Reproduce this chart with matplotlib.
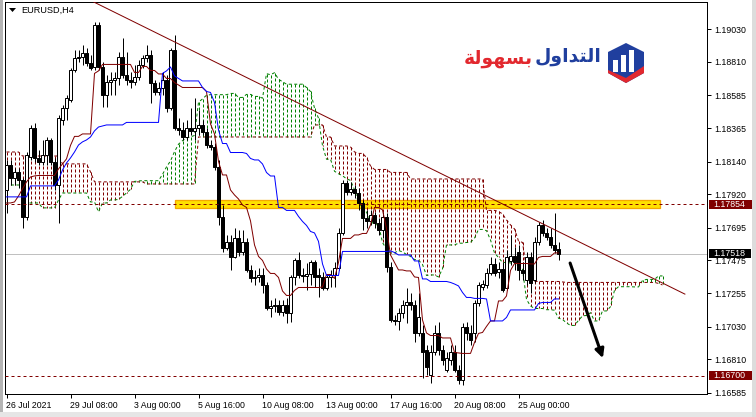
import numpy as np
import pandas as pd
import matplotlib
matplotlib.use("Agg")
import matplotlib.pyplot as plt
from matplotlib.patches import Rectangle, Polygon
from matplotlib.collections import LineCollection
from matplotlib.transforms import blended_transform_factory

plt.rcParams['font.family'] = ['Liberation Sans', 'DejaVu Sans']

# ---- EURUSD H4 candles (bar 0 = 26 Jul 2021 16:00) ----
open_ = [
    1.17949, 1.18117, 1.18029, 1.18070, 1.18016, 1.17767, 1.18171, 1.18366, 1.18164, 1.18137,
    1.18184, 1.18285, 1.18137, 1.17982, 1.18420, 1.18500, 1.18554, 1.18756, 1.18837, 1.18843,
    1.18870, 1.18803, 1.18776, 1.19059, 1.18776, 1.18588, 1.18675, 1.18689, 1.18702, 1.18843,
    1.18722, 1.18689, 1.18675, 1.18709, 1.18790, 1.18837, 1.18857, 1.18669, 1.18608, 1.18635,
    1.18689, 1.18500, 1.18891, 1.18366, 1.18352, 1.18305, 1.18366, 1.18346, 1.18366, 1.18386,
    1.18339, 1.18251, 1.18238, 1.18103, 1.17767, 1.17558, 1.17599, 1.17498, 1.17626, 1.17531,
    1.17599, 1.17410, 1.17357, 1.17363, 1.17377, 1.17310, 1.17155, 1.17168, 1.17175, 1.17128,
    1.17175, 1.17121, 1.17363, 1.17478, 1.17377, 1.17370, 1.17384, 1.17464, 1.17377, 1.17363,
    1.17289, 1.17363, 1.17377, 1.17424, 1.17659, 1.17996, 1.17935, 1.17955, 1.17928, 1.17861,
    1.17760, 1.17740, 1.17780, 1.17727, 1.17680, 1.17767, 1.17431, 1.17074, 1.17067, 1.17121,
    1.17175, 1.17195, 1.17175, 1.16987, 1.16987, 1.16872, 1.16704, 1.16859, 1.16987, 1.16872,
    1.16738, 1.16805, 1.16859, 1.16738, 1.16670, 1.17027, 1.16987, 1.16987, 1.17188, 1.17296,
    1.17310, 1.17390, 1.17451, 1.17397, 1.17417, 1.17289, 1.17471, 1.17505, 1.17531, 1.17410,
    1.17343, 1.17498, 1.17343, 1.17599, 1.17713, 1.17659, 1.17633, 1.17579, 1.17552,
]
high = [
    1.18151, 1.18151, 1.18097, 1.18097, 1.18029, 1.18204, 1.18386, 1.18399, 1.18218, 1.18285,
    1.18305, 1.18299, 1.18164, 1.18453, 1.18521, 1.18588, 1.18770, 1.18891, 1.18891, 1.18924,
    1.18904, 1.18857, 1.19079, 1.19079, 1.18810, 1.18722, 1.18743, 1.18743, 1.18877, 1.18971,
    1.18877, 1.18743, 1.18790, 1.18823, 1.18857, 1.18924, 1.18891, 1.18689, 1.18675, 1.18743,
    1.18722, 1.18904, 1.18991, 1.18433, 1.18406, 1.18420, 1.18500, 1.18568, 1.18487, 1.18420,
    1.18366, 1.18285, 1.18265, 1.18151, 1.17848, 1.17646, 1.17646, 1.17693, 1.17680, 1.17680,
    1.17626, 1.17444, 1.17410, 1.17424, 1.17424, 1.17330, 1.17209, 1.17222, 1.17209, 1.17209,
    1.17222, 1.17377, 1.17491, 1.17531, 1.17424, 1.17458, 1.17478, 1.17478, 1.17424, 1.17397,
    1.17377, 1.17410, 1.17464, 1.17693, 1.18016, 1.18016, 1.18003, 1.17982, 1.17962, 1.17881,
    1.17814, 1.17814, 1.17801, 1.17760, 1.17801, 1.17794, 1.17464, 1.17108, 1.17155, 1.17209,
    1.17289, 1.17256, 1.17209, 1.17256, 1.17040, 1.16906, 1.16906, 1.17040, 1.17061, 1.16906,
    1.16859, 1.16906, 1.16906, 1.16771, 1.17054, 1.17061, 1.17040, 1.17209, 1.17330, 1.17343,
    1.17424, 1.17498, 1.17491, 1.17464, 1.17464, 1.17545, 1.17646, 1.17565, 1.17579, 1.17464,
    1.17531, 1.17531, 1.17633, 1.17733, 1.17747, 1.17693, 1.17693, 1.17794, 1.17599,
]
low = [
    1.17794, 1.17982, 1.17982, 1.17962, 1.17693, 1.17747, 1.18151, 1.18137, 1.18117, 1.18117,
    1.18117, 1.18117, 1.17949, 1.17727, 1.18386, 1.18420, 1.18541, 1.18743, 1.18810, 1.18790,
    1.18783, 1.18756, 1.18756, 1.18756, 1.18507, 1.18507, 1.18588, 1.18588, 1.18655, 1.18702,
    1.18655, 1.18635, 1.18655, 1.18689, 1.18770, 1.18810, 1.18534, 1.18588, 1.18588, 1.18588,
    1.18473, 1.18487, 1.18352, 1.18319, 1.18285, 1.18285, 1.18319, 1.18285, 1.18319, 1.18319,
    1.18231, 1.18218, 1.18083, 1.17713, 1.17531, 1.17545, 1.17410, 1.17491, 1.17505, 1.17511,
    1.17397, 1.17330, 1.17310, 1.17330, 1.17256, 1.17141, 1.17094, 1.17128, 1.17108, 1.17101,
    1.17054, 1.17061, 1.17310, 1.17357, 1.17330, 1.17276, 1.17310, 1.17296, 1.17229, 1.17276,
    1.17276, 1.17296, 1.17296, 1.17410, 1.17646, 1.17915, 1.17915, 1.17895, 1.17814, 1.17680,
    1.17693, 1.17713, 1.17693, 1.17646, 1.17626, 1.17397, 1.17061, 1.17040, 1.17007, 1.17088,
    1.17054, 1.17141, 1.16926, 1.16966, 1.16684, 1.16704, 1.16650, 1.16839, 1.16839, 1.16771,
    1.16724, 1.16771, 1.16724, 1.16644, 1.16637, 1.16940, 1.16906, 1.16926, 1.17168, 1.17276,
    1.17289, 1.17377, 1.17370, 1.17357, 1.17262, 1.17276, 1.17444, 1.17410, 1.17343, 1.17343,
    1.17310, 1.17256, 1.17323, 1.17579, 1.17639, 1.17612, 1.17558, 1.17525, 1.17478,
]
close = [
    1.18117, 1.18029, 1.18070, 1.18016, 1.17767, 1.18184, 1.18366, 1.18164, 1.18137, 1.18184,
    1.18285, 1.18137, 1.17982, 1.18433, 1.18500, 1.18568, 1.18756, 1.18837, 1.18843, 1.18870,
    1.18803, 1.18770, 1.19059, 1.18776, 1.18588, 1.18675, 1.18689, 1.18702, 1.18843, 1.18722,
    1.18689, 1.18675, 1.18709, 1.18790, 1.18837, 1.18857, 1.18669, 1.18608, 1.18635, 1.18689,
    1.18500, 1.18891, 1.18366, 1.18352, 1.18305, 1.18366, 1.18346, 1.18366, 1.18386, 1.18339,
    1.18251, 1.18238, 1.18103, 1.17767, 1.17558, 1.17599, 1.17498, 1.17626, 1.17531, 1.17599,
    1.17410, 1.17357, 1.17363, 1.17377, 1.17310, 1.17155, 1.17168, 1.17175, 1.17128, 1.17175,
    1.17121, 1.17363, 1.17478, 1.17377, 1.17370, 1.17384, 1.17464, 1.17363, 1.17363, 1.17289,
    1.17363, 1.17377, 1.17424, 1.17659, 1.17996, 1.17935, 1.17955, 1.17928, 1.17861, 1.17760,
    1.17740, 1.17780, 1.17727, 1.17680, 1.17767, 1.17431, 1.17074, 1.17067, 1.17121, 1.17175,
    1.17195, 1.17175, 1.16987, 1.17094, 1.16859, 1.16758, 1.16859, 1.16987, 1.16872, 1.16805,
    1.16818, 1.16859, 1.16738, 1.16670, 1.17027, 1.16987, 1.16940, 1.17188, 1.17310, 1.17316,
    1.17390, 1.17451, 1.17390, 1.17417, 1.17276, 1.17498, 1.17505, 1.17464, 1.17410, 1.17390,
    1.17498, 1.17323, 1.17599, 1.17713, 1.17659, 1.17633, 1.17579, 1.17545, 1.17518,
]

tenkan_head = [1.17861, 1.17861, 1.17868, 1.17908, 1.17955, 1.18003, 1.18036, 1.18043]
kijun_head = [1.17902, 1.17902, 1.17902, 1.17902, 1.17902, 1.17902,
              1.17976, 1.17976, 1.17976, 1.17976, 1.17976, 1.17976, 1.17976,
              1.18016, 1.18083, 1.18130, 1.18164, 1.18204, 1.18251, 1.18272,
              1.18285, 1.18305, 1.18346, 1.18372, 1.18379]
span_a_head = [1.18003, 1.17982, 1.17982, 1.17982, 1.17982, 1.17861, 1.17861, 1.17861,
               1.17861, 1.17828, 1.17828, 1.17828, 1.17828, 1.17881, 1.17928, 1.17928,
               1.17928, 1.17928, 1.17928, 1.17928, 1.17928, 1.17868, 1.17868, 1.17801,
               1.17861, 1.17861]
span_b_head = [1.18204, 1.18204, 1.18204, 1.18204,
               1.18177, 1.18177, 1.18177, 1.18177, 1.18177, 1.18177, 1.18177, 1.18177,
               1.18177, 1.18177,
               1.18124, 1.18124, 1.18124, 1.18124, 1.18124, 1.18124, 1.18124,
               1.18070,
               1.18003, 1.18003, 1.18003, 1.18003, 1.18003, 1.18003, 1.18003, 1.18003,
               1.18003, 1.18003, 1.18003, 1.18003, 1.18003,
               1.17989, 1.17989, 1.17989, 1.17989, 1.17989, 1.17989, 1.17989, 1.17989,
               1.17989, 1.17989, 1.17989, 1.17989, 1.17989,
               1.18305, 1.18305, 1.18305, 1.18305, 1.18305, 1.18305, 1.18305, 1.18305,
               1.18305, 1.18305, 1.18305, 1.18305, 1.18305, 1.18305, 1.18305, 1.18305,
               1.18305, 1.18305, 1.18305, 1.18305, 1.18305, 1.18305, 1.18305, 1.18305,
               1.18305, 1.18305, 1.18305, 1.18305, 1.18305]

time_ticks = [0, 16, 32, 48, 64, 80, 96, 112, 128]
time_labels = ['26 Jul 2021', '29 Jul 08:00', '3 Aug 00:00', '5 Aug 16:00', '10 Aug 08:00',
               '13 Aug 00:00', '17 Aug 16:00', '20 Aug 08:00', '25 Aug 00:00']
price_ticks = [1.19030, 1.18810, 1.18585, 1.18365, 1.18140, 1.17920, 1.17695,
               1.17475, 1.17255, 1.17030, 1.16810, 1.16585]

resistance = 1.17854
support = 1.16700
zone = (42.1, 163.4, 1.17827, 1.17881)          # bar from, bar to, price low, price high
trend = ((21.6, 1.19216), (169.6, 1.17248))       # (bar, price) anchors
arrow = ((140.9, 1.17457), (149.1, 1.16817))

MAROON, GREEN, BLUE = '#800000', '#008000', '#0000FF'
PX = 0.72          # one pixel in points at dpi 100
PY = 6.7281e-5     # one pixel in price units
DOT = (0, (3, 2.5))

# ---- indicator ----
hi, lo = pd.Series(high), pd.Series(low)
tenkan = ((hi.rolling(9).max() + lo.rolling(9).min()) / 2).to_numpy()
tenkan[:8] = tenkan_head
kijun = ((hi.rolling(26).max() + lo.rolling(26).min()) / 2).to_numpy()
kijun[:25] = kijun_head
span_b_calc = ((hi.rolling(52).max() + lo.rolling(52).min()) / 2).to_numpy()
span_a = np.concatenate([span_a_head, (tenkan + kijun) / 2])
span_b = np.concatenate([span_b_head, span_b_calc[51:]])

W, H = 756, 417
fig = plt.figure(figsize=(W / 100, H / 100), dpi=100, facecolor='white')
ax = fig.add_axes([5 / W, (H - 394) / H, 702 / W, 392 / H])
ax.set_xlim(-0.375, 175.125)   # 4 px per bar
ax.set_ylim(1.16576, 1.19213)

n = len(close)
xs = np.arange(n)
o, h, l, c = map(np.array, (open_, high, low, close))

# zone, bid line
ax.add_patch(Rectangle((zone[0], zone[2]), zone[1] - zone[0], zone[3] - zone[2],
                       facecolor='#FFE100', edgecolor='#F5A800', lw=1.3 * PX, zorder=0.5))
ax.axhline(c[-1], color='#C0C0C0', lw=PX, zorder=0.6)

# cloud: broken verticals (3 px on, 2 px off) between the spans
segs, seg_cols = [], []
for j, (a, b) in enumerate(zip(span_a, span_b)):
    top, bot = max(a, b), min(a, b)
    col = GREEN if a >= b else MAROON
    y = top
    while y > bot:
        segs.append([(j, y), (j, max(y - 3 * PY, bot))])
        seg_cols.append(col)
        y -= 5 * PY
ax.add_collection(LineCollection(segs, colors=seg_cols, linewidths=PX, snap=True, zorder=1))
ax.plot(np.arange(len(span_a)), span_a, color=GREEN, ls=DOT, lw=PX, zorder=1.1)
ax.plot(np.arange(len(span_b)), span_b, color=MAROON, ls=DOT, lw=PX, zorder=1.1)

# candles
ax.vlines(xs, l, h, color='black', lw=PX, snap=True, zorder=2)
up = c >= o
ax.bar(xs, np.abs(c - o) + 0.000005, bottom=np.minimum(o, c), width=0.55,
       color=np.where(up, 'white', 'black'), edgecolor='black', lw=PX, zorder=3)

# lines
ax.plot(xs, tenkan, color=MAROON, lw=PX, zorder=4)
ax.plot(xs, kijun, color=BLUE, lw=PX, zorder=4)
ax.axhline(resistance, color=MAROON, ls=(0, (3, 3)), lw=PX, zorder=4.5)
ax.axhline(support, color=MAROON, ls=(0, (3, 3)), lw=PX, zorder=4.5)
ax.plot([trend[0][0], trend[1][0]], [trend[0][1], trend[1][1]], color=MAROON, lw=PX, zorder=5)
ax.annotate('', xy=arrow[1], xytext=arrow[0],
            arrowprops=dict(arrowstyle='-|>', color='black', lw=2.2, mutation_scale=13,
                            shrinkA=0, shrinkB=0), zorder=6)

# axes styling
for s in ax.spines.values():
    s.set_linewidth(PX)
    s.set_color('black')
ax.yaxis.tick_right()
ax.set_yticks(price_ticks)
ax.set_yticklabels([f'{v:.5f}' for v in price_ticks])
ax.set_xticks(time_ticks)
ax.set_xticklabels(time_labels)
ax.tick_params(axis='both', direction='out', length=3, width=PX, pad=2.2,
               labelsize=6.3, colors='black')
for lab in ax.get_xticklabels():
    lab.set_ha('left')

# price tags on the scale
blend = blended_transform_factory(fig.transFigure, ax.transData)
for price, col, wpx in [(resistance, MAROON, 47), (c[-1], 'black', 42), (support, MAROON, 47)]:
    ax.add_artist(Rectangle((709 / W, price - 4.5 * PY), wpx / W, 9 * PY, transform=blend,
                            facecolor=col, edgecolor='none', clip_on=False, zorder=7))
    ax.text(713 / W, price, f'{price:.5f}', transform=blend, color='white', fontsize=6.3,
            va='center', ha='left', clip_on=False, zorder=8)

# title
fig.text(21 / W, 1 - 10 / H, 'EURUSD,H4', fontsize=6.6, va='center', ha='left')
fig.patches.append(Polygon([(9 / W, 1 - 8 / H), (16 / W, 1 - 8 / H), (12.5 / W, 1 - 12 / H)],
                           closed=True, transform=fig.transFigure, facecolor='black',
                           edgecolor='none'))

# logo
def fp(x, y):
    return (x / W, 1 - y / H)

fig.text(*fp(533, 58), '\ufe94\ufedf\ufeee\ufeec\ufeb4\ufe91', color='#E2282E', fontsize=13.5,
         fontweight='bold', family='DejaVu Sans', ha='right', va='center')
fig.text(*fp(602, 57), '\ufedd\ufeed\ufe8d\ufeaa\ufe98\ufedf\ufe8d', color='#203F9E', fontsize=13.5,
         fontweight='bold', family='DejaVu Sans', ha='right', va='center')
hexa = [fp(608, 52), fp(626, 43), fp(644, 52), fp(644, 73), fp(626, 83), fp(608, 73)]
fig.patches.append(Polygon(hexa, closed=True, transform=fig.transFigure,
                           facecolor='#203F9E', edgecolor='none'))
for bx, top in [(613, 60), (621, 55), (629, 50)]:
    fig.patches.append(Polygon([fp(bx, top), fp(bx + 5, top), fp(bx + 5, 72), fp(bx, 72)],
                               closed=True, transform=fig.transFigure,
                               facecolor='white', edgecolor='none'))
fig.patches.append(Polygon([fp(608, 70), fp(626, 78), fp(644, 66), fp(644, 73), fp(626, 83),
                            fp(608, 73)], closed=True, transform=fig.transFigure,
                           facecolor='#E2282E', edgecolor='none'))

# window edges
fig.patches.append(Rectangle((0, 0), 3 / W, 1, transform=fig.transFigure,
                             facecolor='#B4B4B4', edgecolor='none'))
fig.patches.append(Rectangle((0, 0), 1, 5 / H, transform=fig.transFigure,
                             facecolor='#E6E6E6', edgecolor='none'))
fig.patches.append(Rectangle((752 / W, 0), 4 / W, 1, transform=fig.transFigure,
                             facecolor='#DCDCDC', edgecolor='none'))

fig.savefig('out.png', dpi=100, facecolor='white')
